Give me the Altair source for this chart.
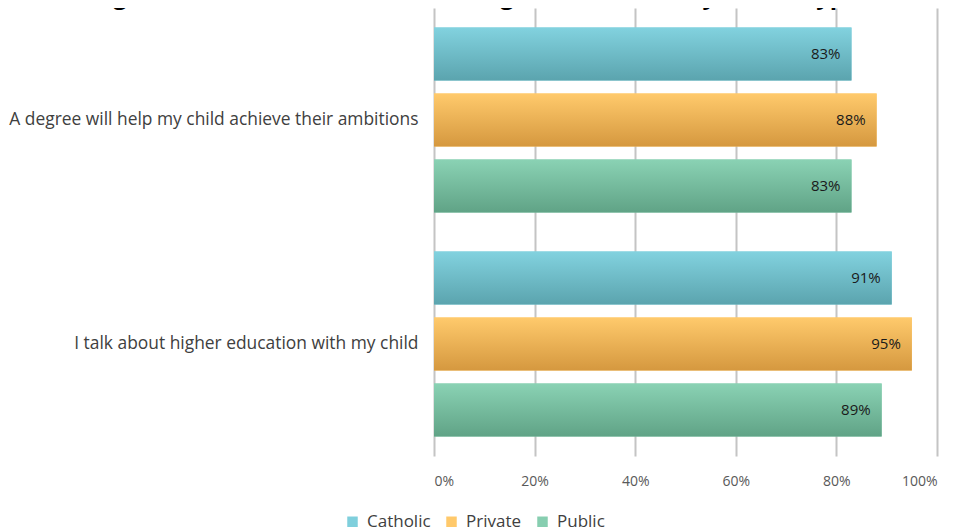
import altair as alt
import pandas as pd

statements = [
    "A degree will help my child achieve their ambitions",
    "I talk about higher education with my child",
]
school_types = ["Catholic", "Private", "Public"]
catholic = [0.83, 0.91]
private = [0.88, 0.95]
public = [0.83, 0.89]
title_text = "Agreement with statements on higher education by school type"

solid = ["#7fcfdc", "#ffc96b", "#87ceb0"]
grad_top = ["#82d2df", "#ffca6c", "#8ad2b4"]
grad_bot = ["#5ba4ae", "#d5983f", "#60a386"]

rows = []
for i, s in enumerate(statements):
    for t, vals in zip(school_types, [catholic, private, public]):
        rows.append({"statement": s, "type": t, "value": vals[i]})
df = pd.DataFrame(rows)

FONT = "Open Sans"

y_enc = alt.Y("statement:N", sort=statements, title=None,
              scale=alt.Scale(paddingInner=0, paddingOuter=0),
              axis=alt.Axis(labelFontSize=17.4, labelColor="#404040", labelPadding=16,
                            ticks=False, domain=False, labelFont=FONT, labelLimit=430))
yoff_enc = alt.YOffset("type:N", sort=school_types,
                       scale=alt.Scale(paddingInner=0.197, paddingOuter=0.295))
x_enc = alt.X("value:Q", title=None,
              scale=alt.Scale(domain=[0, 1]),
              axis=alt.Axis(format=".0%", values=[0, 0.2, 0.4, 0.6, 0.8, 1.0],
                            grid=True, gridColor="#c4c4c4", gridWidth=2,
                            domain=False, ticks=False, labelFontSize=14,
                            labelColor="#595959", labelPadding=18, labelFont=FONT))

base = alt.Chart(df).mark_bar().encode(
    y=y_enc, yOffset=yoff_enc, x=x_enc,
    color=alt.Color("type:N", sort=school_types,
                    scale=alt.Scale(domain=school_types, range=solid),
                    legend=alt.Legend(title=None, orient="none", direction="horizontal",
                                      legendX=-90, legendY=505,
                                      symbolType="square", symbolSize=110,
                                      symbolStrokeWidth=0,
                                      labelFontSize=17, labelColor="#404040",
                                      labelFont=FONT, columnPadding=12,
                                      symbolOffset=0, labelOffset=6)),
)

layers = [base]
for t, top, bot in zip(school_types, grad_top, grad_bot):
    g = alt.Chart(df).transform_filter(alt.datum.type == t).mark_bar(
        fill=alt.LinearGradient(
            gradient="linear", x1=0, x2=0, y1=0, y2=1,
            stops=[alt.GradientStop(offset=0, color=top),
                   alt.GradientStop(offset=1, color=bot)])
    ).encode(y=alt.Y("statement:N", sort=statements),
             yOffset=alt.YOffset("type:N", sort=school_types),
             x="value:Q")
    layers.append(g)

labels = alt.Chart(df).mark_text(align="right", baseline="middle", dx=-11,
                                 fontSize=15, color="#1a1a1a", font=FONT).encode(
    y=alt.Y("statement:N", sort=statements),
    yOffset=alt.YOffset("type:N", sort=school_types),
    x="value:Q",
    text=alt.Text("value:Q", format=".0%"),
)
layers.append(labels)

title_layer = alt.Chart(pd.DataFrame({"t": [title_text]})).mark_text(
    align="center", baseline="alphabetic", fontSize=24, fontWeight="bold",
    color="#000000", font=FONT).encode(
    text="t:N", x=alt.value(44), y=alt.value(-4))
layers.append(title_layer)

chart = alt.layer(*layers).properties(
    width=503, height=448,
    autosize=alt.AutoSizeParams(type="none"),
    padding={"left": 426, "top": 0, "right": 12, "bottom": 80},
).configure_view(stroke=None)

chart.save("out.html", embed_options={"renderer": "svg", "actions": False})
